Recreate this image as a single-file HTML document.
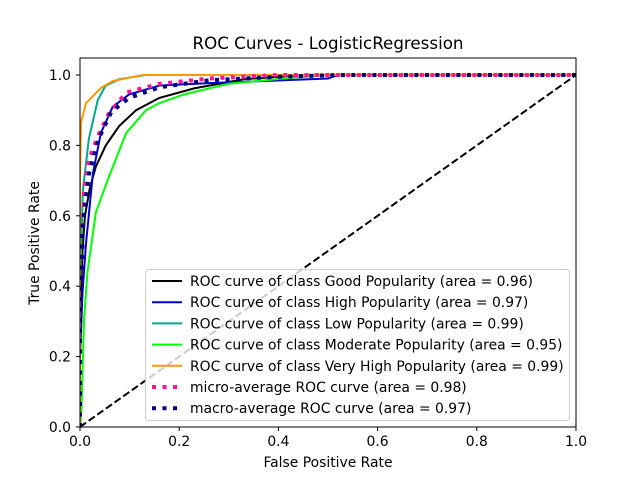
<!DOCTYPE html>
<html><head><meta charset="utf-8"><style>
body{margin:0;background:#fff}
svg text{font-family:"DejaVu Sans","Liberation Sans",sans-serif;fill:#000}
</style></head><body>
<svg width="640" height="480" id="c">
<rect width="640" height="480" fill="#fff"/>
</svg>
<script>
const classNames=["Good Popularity","High Popularity","Low Popularity","Moderate Popularity","Very High Popularity"];
const aucs=[0.96,0.97,0.99,0.95,0.99];
const colors=["#000000","#0000cc","#00a88a","#00ff00","#ff9900"];
const fprGood=[0,0,0.005,0.01,0.02,0.032,0.052,0.079,0.113,0.16,0.23,0.33,0.45,1];
const tprGood=[0,0.3,0.5,0.6,0.68,0.74,0.80,0.855,0.90,0.935,0.962,0.988,1,1];
const fprHigh=[0,0,0.005,0.012,0.026,0.042,0.066,0.099,0.16,0.26,0.41,0.5,0.52,1];
const tprHigh=[0,0.2,0.38,0.52,0.72,0.835,0.91,0.945,0.97,0.977,0.985,0.99,1,1];
const fprLow=[0,0,0.006,0.018,0.036,0.052,0.079,0.133,1];
const tprLow=[0,0.4,0.675,0.82,0.93,0.97,0.988,1,1];
const fprMod=[0,0.003,0.008,0.015,0.032,0.058,0.093,0.133,0.16,0.21,0.30,0.41,0.5,1];
const tprMod=[0,0.05,0.3,0.44,0.61,0.71,0.835,0.90,0.92,0.945,0.975,0.99,1,1];
const fprVH=[0,0,0.002,0.012,0.042,0.066,0.127,1];
const tprVH=[0,0.7,0.865,0.92,0.963,0.983,1,1];
const fprMicro=[0,0,0.008,0.018,0.036,0.058,0.093,0.16,0.26,0.4,1];
const tprMicro=[0,0.3,0.675,0.76,0.826,0.89,0.95,0.975,0.99,1,1];
const fprMacro=[0,0,0.006,0.018,0.038,0.063,0.099,0.16,0.26,0.4,0.52,1];
const tprMacro=[0,0.3,0.58,0.72,0.82,0.895,0.935,0.965,0.985,0.995,1,1];
const xTicks=[0,0.2,0.4,0.6,0.8,1.0];
const yTicks=[0,0.2,0.4,0.6,0.8,1.0];
const X=v=>80+496*v, Y=v=>427-352*v;
const svg=document.getElementById('c');const NS="http://www.w3.org/2000/svg";
function mk(t,a,p){const e=document.createElementNS(NS,t);for(const k in a)e.setAttribute(k,a[k]);(p||svg).appendChild(e);return e;}
const plot=mk('g',{});


const cp=mk('clipPath',{id:'cl'});mk('rect',{x:80,y:58,width:496,height:369},cp);
const curves=[[fprGood,tprGood],[fprHigh,tprHigh],[fprLow,tprLow],[fprMod,tprMod],[fprVH,tprVH]];
const names=['roc-good','roc-high','roc-low','roc-moderate','roc-very-high'];
curves.forEach((c,i)=>{const p=mk('polyline',{points:c[0].map((f,j)=>X(f)+','+Y(c[1][j])).join(' '),fill:'none',stroke:colors[i],'stroke-width':2,'clip-path':'url(#cl)'},plot);

});
const mi=mk('polyline',{points:fprMicro.map((f,j)=>X(f)+','+Y(tprMicro[j])).join(' '),fill:'none',stroke:'#ff1493','stroke-width':4,'stroke-dasharray':'4 6.5','clip-path':'url(#cl)'},plot);


const ma=mk('polyline',{points:fprMacro.map((f,j)=>X(f)+','+Y(tprMacro[j])).join(' '),fill:'none',stroke:'#000080','stroke-width':4,'stroke-dasharray':'4 6.5','clip-path':'url(#cl)'},plot);


const dg=mk('line',{x1:X(0),y1:Y(0),x2:X(1),y2:Y(1),stroke:'#000','stroke-width':2,'stroke-dasharray':'7.4 3.2'},plot);


const fr=mk('rect',{x:80,y:58,width:496,height:369,fill:'none',stroke:'#000','stroke-width':1});


xTicks.forEach(t=>{mk('line',{x1:X(t),y1:427,x2:X(t),y2:431,stroke:'#000'});const e=mk('text',{x:X(t),y:446,'text-anchor':'middle','font-size':13.9});e.textContent=t.toFixed(1);

});
yTicks.forEach(t=>{mk('line',{x1:76,y1:Y(t),x2:80,y2:Y(t),stroke:'#000'});const e=mk('text',{x:71,y:Y(t)+5,'text-anchor':'end','font-size':13.9});e.textContent=t.toFixed(1);

});
let t=mk('text',{x:328,y:49,'text-anchor':'middle','font-size':16.7});t.textContent='ROC Curves - LogisticRegression';


t=mk('text',{x:328,y:467,'text-anchor':'middle','font-size':13.9});t.textContent='False Positive Rate';


t=mk('text',{x:39,y:243,'text-anchor':'middle','font-size':13.9,transform:'rotate(-90 39 243)'});t.textContent='True Positive Rate';


const lg=mk('g',{});


mk('rect',{x:145.5,y:269.5,width:424,height:151,rx:3,fill:'#fff','fill-opacity':0.8,stroke:'#ccc'},lg);
const labels=classNames.map((n,i)=>'ROC curve of class '+n+' (area = '+aucs[i].toFixed(2)+')').concat(['micro-average ROC curve (area = 0.98)','macro-average ROC curve (area = 0.97)']);
const lc=colors.concat(['#ff1493','#000080']);
labels.forEach((s,i)=>{const y=281+i*21.2;
if(i<5)mk('line',{x1:152,y1:y,x2:182,y2:y,stroke:lc[i],'stroke-width':2},lg);
else mk('line',{x1:152,y1:y,x2:182,y2:y,stroke:lc[i],'stroke-width':4,'stroke-dasharray':'4 6.5'},lg);
const e=mk('text',{x:190,y:y+5,'font-size':13.9},lg);e.textContent=s;

});
</script>
</body></html>
